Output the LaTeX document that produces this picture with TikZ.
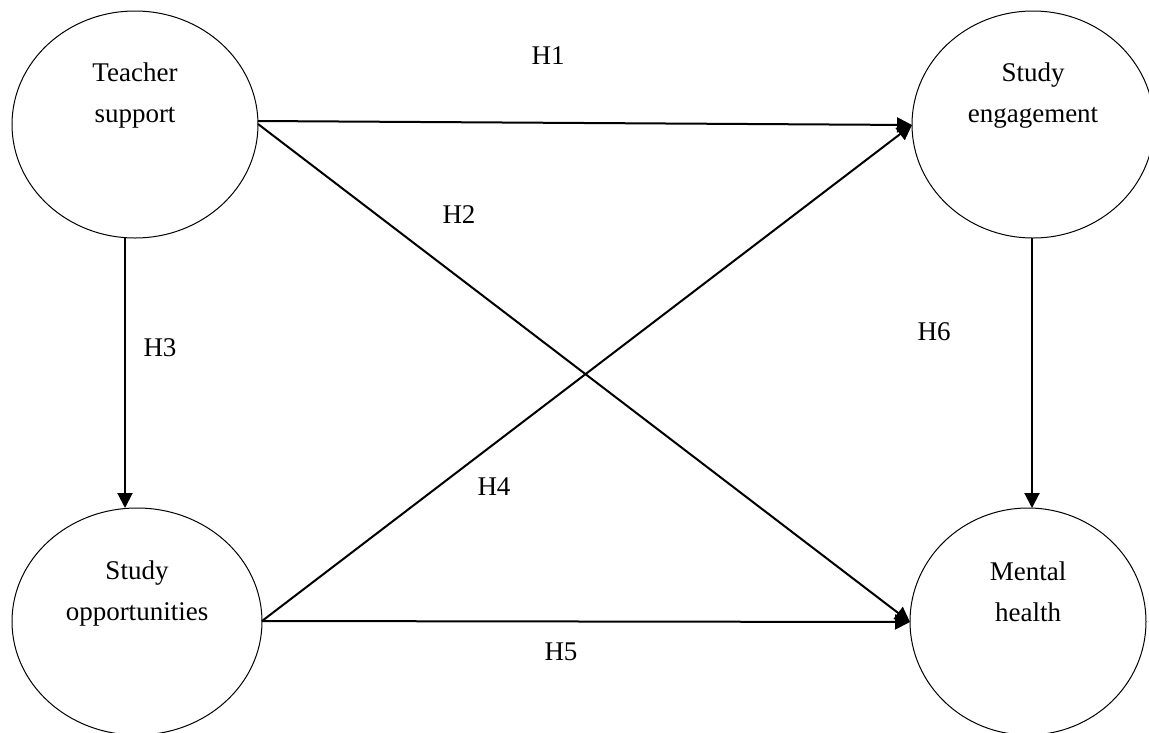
\documentclass[tikz,border=0pt]{standalone}
\usepackage{fontspec}
\setmainfont{Liberation Serif}
\usetikzlibrary{shapes.geometric,arrows.meta}
\begin{document}
\begin{tikzpicture}[x=1pt,y=-1pt,
  construct/.style={draw,ellipse,line width=1pt,inner sep=0pt,outer sep=0pt},
  ctext/.style={align=center,font=\fontsize{27}{41}\selectfont},
  hlabel/.style={font=\fontsize{27}{32}\selectfont},
  path/.style={draw,line width=2pt,-{Triangle[length=15pt,width=15pt]}}]
\useasboundingbox (0,0) rectangle (1149,732);
\node[construct,minimum width=246pt,minimum height=227pt] (ts) at (135,124.5) {};
\node[construct,minimum width=242pt,minimum height=227pt] (se) at (1033,124.5) {};
\node[construct,minimum width=250pt,minimum height=227pt] (so) at (137,621.5) {};
\node[construct,minimum width=236pt,minimum height=227pt] (mh) at (1028,621.5) {};
\node[ctext] (tst) at (135,96) {Teacher\\support};
\node[ctext] (set) at (1033,96) {Study\\engagement};
\node[ctext] (sot) at (137,593) {Study\\opportunities};
\node[ctext] (mht) at (1028,592) {Mental\\health};
\coordinate (tsa) at (258,121);
\coordinate (tsb) at (258,124);
\coordinate (tsc) at (125,238);
\coordinate (soa) at (125,508);
\coordinate (sob) at (262,621);
\coordinate (sea) at (912,125);
\coordinate (seb) at (1032,238);
\coordinate (mha) at (910,622);
\coordinate (mhb) at (1032,508);
\draw[path] (tsa) -- (sea);
\draw[path] (tsb) -- (mha);
\draw[path] (tsc) -- (soa);
\draw[path] (sob) -- (sea);
\draw[path] (sob) -- (mha);
\draw[path] (seb) -- (mhb);
\node[hlabel] (h1) at (548,56) {H1};
\node[hlabel] (h2) at (459,215) {H2};
\node[hlabel] (h3) at (160,348) {H3};
\node[hlabel] (h4) at (494,487) {H4};
\node[hlabel] (h5) at (561,652) {H5};
\node[hlabel] (h6) at (934,332) {H6};
\end{tikzpicture}
\end{document}
